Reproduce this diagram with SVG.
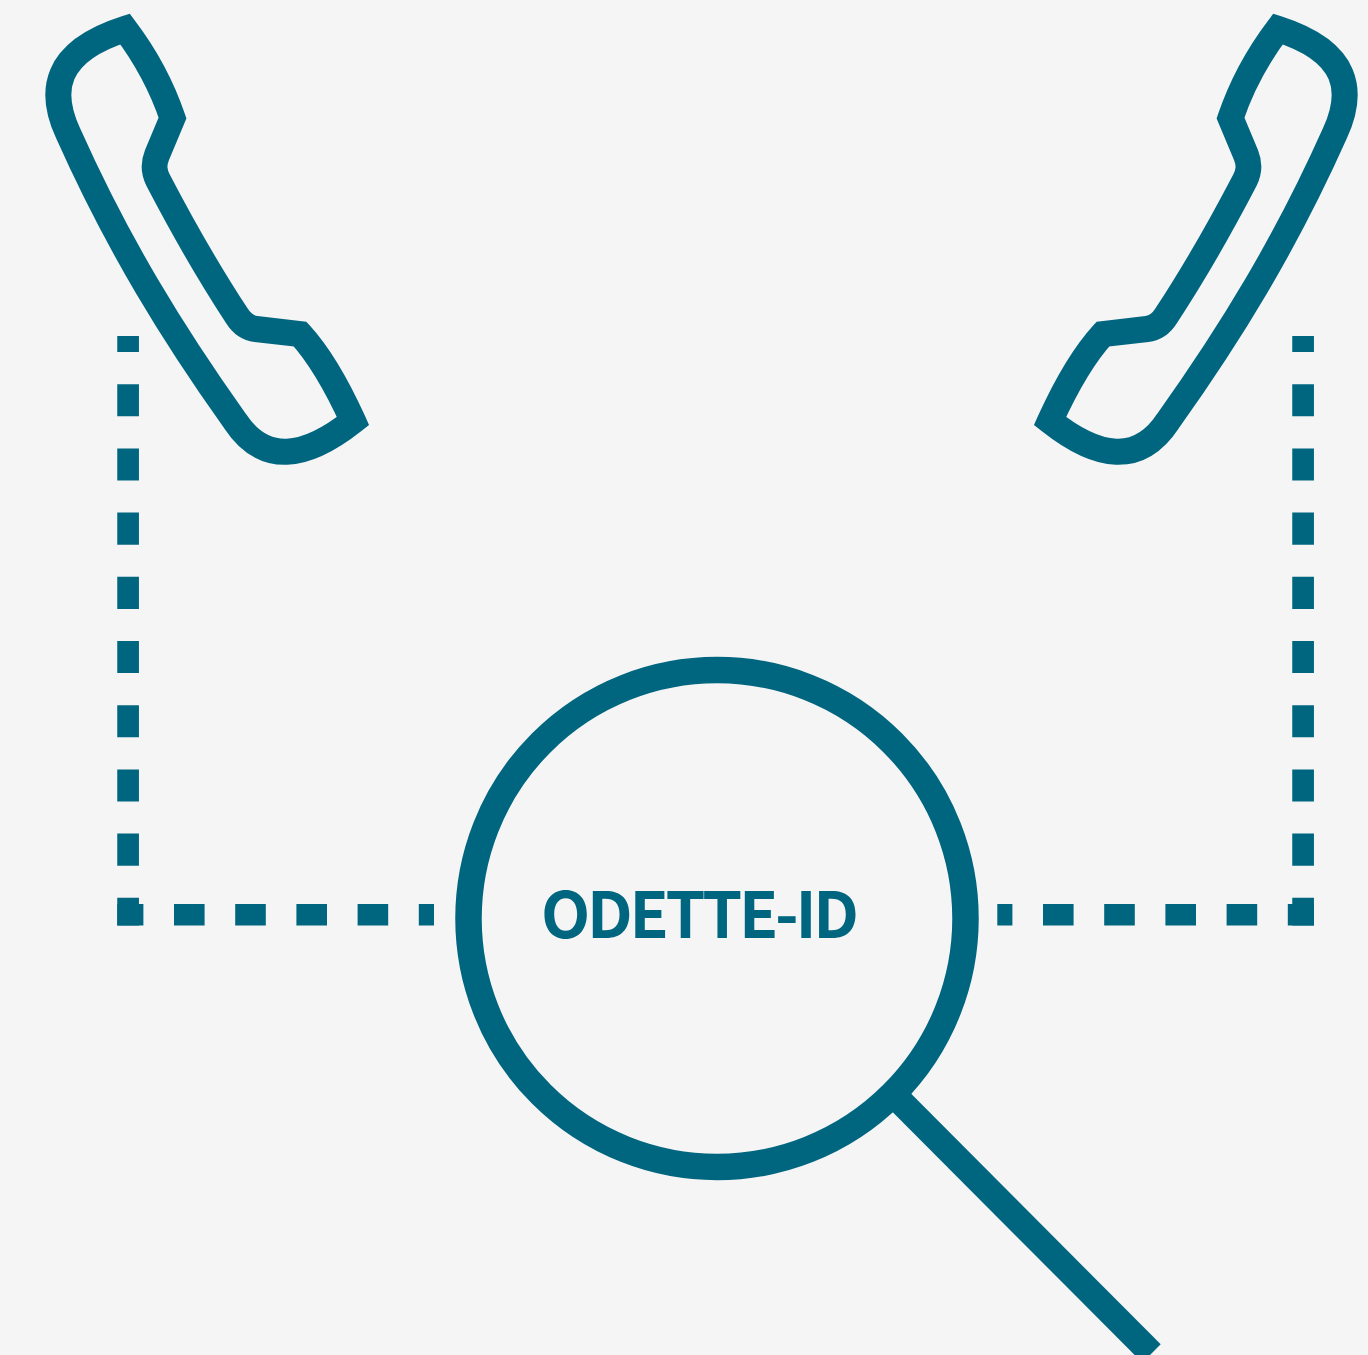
<svg xmlns="http://www.w3.org/2000/svg" xmlns:xlink="http://www.w3.org/1999/xlink" width="1368" height="1355" viewBox="0 0 1368 1355">
<style>
.ln{fill:none;stroke:#006680}
.ph{stroke-width:26;stroke-miterlimit:10}
.dv{stroke-width:21.7;stroke-dasharray:32.1}
.dh{stroke-width:21.5;stroke-dasharray:30.6}
text{font-family:"Noto Sans CJK SC","Open Sans",sans-serif;font-weight:700;font-size:64px;fill:#006680}
</style>
<defs>
<path id="handset" class="ln ph" d="M125 29C150 62 163 90 172.5 118L157 155C153 165 154 172 158 180C182 226 208 272 237 316C242 324 248 328 256 329L300 334C322 358 338 388 353 421C305 459 264 465 235 421C173 334 118 245 68 133C49 92 53 52 125 29Z"/>
</defs>
<rect width="1368" height="1355" fill="#f5f5f5"/>
<g id="connectors">
<path class="ln dv" stroke-dashoffset="16" d="M128.1 336V925.5"/>
<path class="ln dh" stroke-dashoffset="4.5" d="M117.3 914.75H434"/>
<path class="ln dv" stroke-dashoffset="16" d="M1303.1 336V925.5"/>
<path class="ln dh" stroke-dashoffset="15.5" d="M997.3 914.75H1314"/>
</g>
<g id="phone-left"><use xlink:href="#handset" href="#handset"/></g>
<g id="phone-right"><use xlink:href="#handset" href="#handset" transform="translate(1403 0) scale(-1 1)"/></g>
<g id="magnifier">
<circle class="ln" cx="717" cy="918.5" r="248.5" stroke-width="26.5"/>
<path class="ln" stroke-width="26" d="M895 1096L1151.5 1353.5"/>
<text x="541" y="937.7" textLength="318" lengthAdjust="spacing">ODETTE-ID</text>
</g>
</svg>
